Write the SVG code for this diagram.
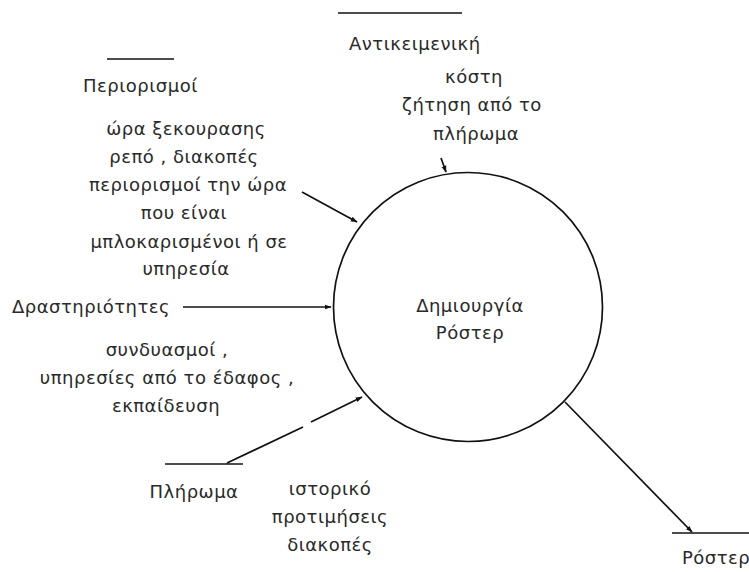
<svg xmlns="http://www.w3.org/2000/svg" width="749" height="572" viewBox="0 0 749 572">
<defs>
<style>
text{font-family:"DejaVu Sans","Noto Sans",sans-serif;font-size:18px;letter-spacing:0.5px;fill:#2a2a2a}
.m{text-anchor:middle}
.ln{stroke:#111;stroke-width:1.7;fill:none}
</style>
<marker id="ah" viewBox="0 0 10 10" refX="9" refY="5" markerWidth="7" markerHeight="7" orient="auto" markerUnits="userSpaceOnUse">
<path d="M0,1.5 L10,5 L0,8.5 Z" fill="#111"/>
</marker>
</defs>
<rect width="749" height="572" fill="#fff"/>
<g id="process">
<circle cx="468" cy="307" r="134.5" class="ln"/>
<text class="m" x="470" y="312">Δημιουργία</text>
<text class="m" x="470" y="339">Ρόστερ</text>
</g>
<g id="store-antikeimeniki">
<line x1="338" y1="13" x2="462" y2="13" class="ln"/>
<text x="349" y="50">Αντικειμενική</text>
</g>
<g id="store-periorismoi">
<line x1="107" y1="59" x2="174" y2="59" class="ln"/>
<text x="83" y="92">Περιορισμοί</text>
</g>
<g id="source-drastiriotites">
<text x="12" y="313">Δραστηριότητες</text>
</g>
<g id="store-pliroma">
<line x1="165" y1="464" x2="243" y2="464" class="ln"/>
<text class="m" x="194" y="498">Πλήρωμα</text>
</g>
<g id="store-roster">
<line x1="672" y1="533" x2="749" y2="533" class="ln"/>
<text x="682" y="564">Ρόστερ</text>
</g>
<g id="connectors">
<line x1="441" y1="158" x2="446" y2="172" class="ln" marker-end="url(#ah)"/>
<line x1="302" y1="192" x2="357" y2="222" class="ln" marker-end="url(#ah)"/>
<line x1="183" y1="307" x2="331" y2="307" class="ln" marker-end="url(#ah)"/>
<line x1="227" y1="463" x2="303" y2="427" class="ln"/>
<line x1="311" y1="422" x2="362" y2="397" class="ln" marker-end="url(#ah)"/>
<line x1="565" y1="402" x2="692" y2="532" class="ln" marker-end="url(#ah)"/>
</g>
<g id="labels">
<text class="m" x="474" y="83">κόστη</text>
<text class="m" x="472" y="111">ζήτηση από το</text>
<text class="m" x="476" y="140">πλήρωμα</text>
<text class="m" x="186" y="135">ώρα ξεκουρασης</text>
<text class="m" x="184" y="163">ρεπό , διακοπές</text>
<text class="m" x="188" y="191">περιορισμοί την ώρα</text>
<text class="m" x="184" y="219">που είναι</text>
<text class="m" x="189" y="248">μπλοκαρισμένοι ή σε</text>
<text class="m" x="186" y="275">υπηρεσία</text>
<text class="m" x="167" y="356">συνδυασμοί ,</text>
<text class="m" x="167" y="384">υπηρεσίες από το έδαφος ,</text>
<text class="m" x="166" y="412">εκπαίδευση</text>
<text class="m" x="330" y="495">ιστορικό</text>
<text class="m" x="330" y="523">προτιμήσεις</text>
<text class="m" x="330" y="551">διακοπές</text>
</g>
</svg>
